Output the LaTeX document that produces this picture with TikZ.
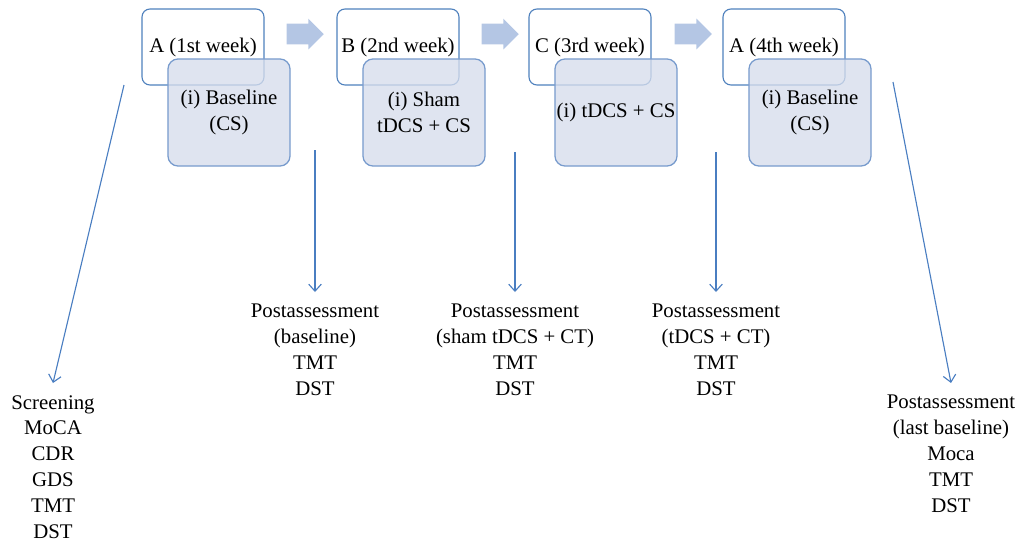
\documentclass[tikz,border=0pt]{standalone}
\usepackage{fontspec}
\setmainfont{Liberation Serif}
\usetikzlibrary{shapes.arrows,arrows.meta}
\definecolor{boxline}{RGB}{79,129,189}
\definecolor{boxedge}{RGB}{120,155,205}
\definecolor{boxfill}{RGB}{214,221,236}
\definecolor{stepfill}{RGB}{180,198,228}
\definecolor{thinline}{RGB}{74,126,193}

\begin{document}
\begin{tikzpicture}[x=0.025cm,y=-0.025cm,
  txt/.style={font=\fontsize{14.8}{18.4}\selectfont},
  week/.style={txt,draw=boxline,line width=0.8pt,rounded corners=0.2cm,
    minimum width=3.05cm,minimum height=1.9cm,inner sep=0pt},
  task/.style={txt,draw=boxedge,line width=0.9pt,fill=boxfill,fill opacity=0.78,
    text opacity=1,rounded corners=0.25cm,minimum width=3.05cm,
    minimum height=2.675cm,align=center,inner sep=0pt},
  go/.style={single arrow,fill=stepfill,draw=none,minimum height=0.93cm,
    minimum width=0.75cm,inner sep=0.25cm,single arrow head extend=0.125cm},
  res/.style={txt,align=center,inner xsep=0pt,inner ysep=8.5pt},
  thinarrow/.style={draw=thinline,line width=0.8pt,
    -{Straight Barb[length=5pt,width=9pt]}}]
  \useasboundingbox (0,0) rectangle (1019,541);
  \foreach \i/\x/\wk/\tk in {
    1/142/{A (1st week)}/{(i) Baseline\\(CS)},
    2/337/{B (2nd week)}/{(i) Sham\\tDCS + CS},
    3/529/{C (3rd week)}/{(i) tDCS + CS},
    4/723/{A (4th week)}/{(i) Baseline\\(CS)}}
  {
    \node[week] (w\i) at (\x+61,47) {\wk};
    \node[task] (t\i) at (\x+87,112.5) {\tk};
  }
  \node[go] (g1) at (300,34) {};
  \node[go] (g2) at (495,34) {};
  \node[go] (g3) at (688,34) {};
  \coordinate (s0) at (124,85);
  \coordinate (s1) at (315,150);
  \coordinate (s2) at (515,152);
  \coordinate (s3) at (716,152);
  \coordinate (s4) at (893,82);
  \node[res,anchor=north] (scr) at (53,383) {Screening\\MoCA\\CDR\\GDS\\TMT\\DST};
  \node[res,anchor=north] (post1) at (315,292) {Postassessment\\(baseline)\\TMT\\DST};
  \node[res,anchor=north] (post2) at (515,292) {Postassessment\\(sham tDCS + CT)\\TMT\\DST};
  \node[res,anchor=north] (post3) at (716,292) {Postassessment\\(tDCS + CT)\\TMT\\DST};
  \node[res,anchor=north] (post4) at (951,383) {Postassessment\\(last baseline)\\Moca\\TMT\\DST};
  \draw[thinarrow] (s0) -- (scr.north);
  \draw[thinarrow] (s1) -- (post1.north);
  \draw[thinarrow] (s2) -- (post2.north);
  \draw[thinarrow] (s3) -- (post3.north);
  \draw[thinarrow] (s4) -- (post4.north);
\end{tikzpicture}
\end{document}
